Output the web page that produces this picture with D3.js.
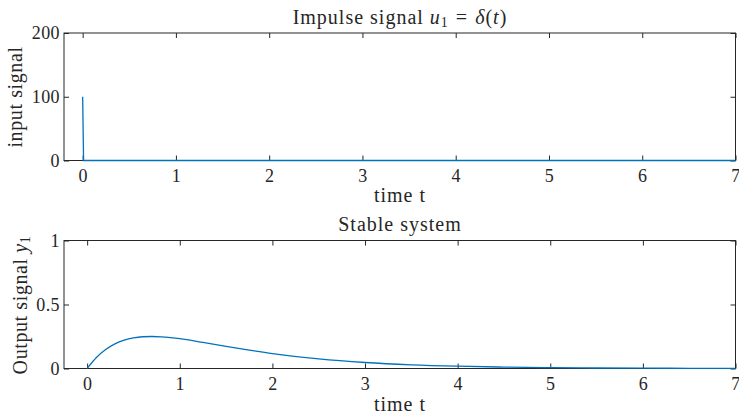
<!DOCTYPE html>
<html>
<head>
<meta charset="utf-8">
<script src="https://cdn.jsdelivr.net/npm/d3@7"></script>
<style>
  body { margin: 0; background: #fff; }
  text { font-family: 'Liberation Serif', 'DejaVu Serif', serif; fill: #262626; }
</style>
</head>
<body>
<div id="chart"></div>
<script>
// input signal: impulse at t = 0, zero afterwards
const inputT = [0, 0.01, 7]
const inputU = [100, 0, 0]

// output signal
const outputT = [0, 0.1, 0.2, 0.3, 0.4, 0.5, 0.6, 0.7, 0.8, 0.9, 1.0, 1.25, 1.5, 1.75, 2.0,
  2.5, 3.0, 3.5, 4.0, 4.5, 5.0, 5.5, 6.0, 6.5, 7.0]
const outputY = [0, 0.086, 0.148, 0.192, 0.221, 0.239, 0.248, 0.25, 0.247, 0.241, 0.233,
  0.204, 0.173, 0.144, 0.117, 0.075, 0.047, 0.029, 0.018, 0.011, 0.007, 0.004, 0.0025,
  0.0015, 0.0009]

const xTicks = [0, 1, 2, 3, 4, 5, 6, 7]
const topYTicks = [0, 100, 200]
const botYTicks = [0, 0.5, 1]

const W = 739, H = 414
const svg = d3.select('#chart').append('svg').attr('width', W).attr('height', H)

const axisColor = '#262626'
const lineColor = '#0072BD'

function panel(opts) {
  const { left, right, top, bottom, xDomain, yDomain, yTicks, yFormat } = opts
  const x = d3.scaleLinear().domain(xDomain).range([left, right])
  const y = d3.scaleLinear().domain(yDomain).range([bottom, top])
  const g = svg.append('g')

  // box
  g.append('rect')
    .attr('x', left).attr('y', top)
    .attr('width', right - left).attr('height', bottom - top)
    .attr('fill', 'none').attr('stroke', axisColor).attr('stroke-width', 1)

  const tl = 5
  // ticks point inward, on all four sides
  const xb = g.append('g').attr('transform', `translate(0,${bottom})`)
    .call(d3.axisBottom(x).tickValues(xTicks).tickSizeInner(-tl).tickSizeOuter(0).tickPadding(9))
  const xt = g.append('g').attr('transform', `translate(0,${top})`)
    .call(d3.axisTop(x).tickValues(xTicks).tickSizeInner(-tl).tickSizeOuter(0).tickFormat(''))
  const yl = g.append('g').attr('transform', `translate(${left},0)`)
    .call(d3.axisLeft(y).tickValues(yTicks).tickSizeInner(-tl).tickSizeOuter(0).tickPadding(4).tickFormat(yFormat))
  const yr = g.append('g').attr('transform', `translate(${right},0)`)
    .call(d3.axisRight(y).tickValues(yTicks).tickSizeInner(-tl).tickSizeOuter(0).tickFormat(''))
  ;[xb, xt, yl, yr].forEach((a) => {
    a.select('.domain').remove()
    a.selectAll('line').attr('stroke', axisColor)
    a.selectAll('text').attr('font-size', '18px').attr('fill', axisColor)
      .attr('letter-spacing', '0.4px')
      .style('font-family', "'Liberation Serif', serif")
  })

  // data line on top of the box
  g.append('path')
    .attr('d', opts.line(x, y))
    .attr('fill', 'none')
    .attr('stroke', lineColor)
    .attr('stroke-width', 1.3)
  return { x, y }
}

// top: impulse
panel({
  left: 64, right: 735.5, top: 33, bottom: 160.5,
  xDomain: [-0.2, 7], yDomain: [0, 200], yTicks: topYTicks, yFormat: d3.format('d'),
  line: (x, y) => d3.line().x((d, i) => x(inputT[i])).y((d) => y(d))(inputU),
})

// bottom: stable system
panel({
  left: 64, right: 735.5, top: 240.5, bottom: 368.5,
  xDomain: [-0.25, 7], yDomain: [0, 1], yTicks: botYTicks, yFormat: (d) => d,
  line: (x, y) => d3.line().curve(d3.curveMonotoneX).x((d, i) => x(outputT[i])).y((d) => y(d))(outputY),
})

// titles and labels
const fs = '20px'
const ls = '1px'
const title1 = svg.append('text').attr('x', 400).attr('y', 24).attr('text-anchor', 'middle')
  .attr('font-size', fs).attr('letter-spacing', ls)
title1.append('tspan').text('Impulse signal ')
title1.append('tspan').attr('font-style', 'italic').text('u')
title1.append('tspan').attr('font-size', '14px').attr('dy', 3).text('1')
title1.append('tspan').attr('dy', -3).attr('dx', 7).text('=')
title1.append('tspan').attr('dx', 7).attr('font-style', 'italic').text('δ')
title1.append('tspan').text('(')
title1.append('tspan').attr('font-style', 'italic').text('t')
title1.append('tspan').text(')')

svg.append('text').attr('x', 400).attr('y', 202).attr('text-anchor', 'middle')
  .attr('font-size', fs).attr('letter-spacing', ls).text('time t')
svg.append('text').attr('x', 400).attr('y', 231).attr('text-anchor', 'middle')
  .attr('font-size', fs).attr('letter-spacing', ls).text('Stable system')
svg.append('text').attr('x', 400).attr('y', 411).attr('text-anchor', 'middle')
  .attr('font-size', fs).attr('letter-spacing', ls).text('time t')

svg.append('text').attr('transform', 'translate(22,97) rotate(-90)').attr('text-anchor', 'middle')
  .attr('font-size', fs).attr('letter-spacing', '0.6px').text('input signal')

const yl2 = svg.append('text').attr('transform', 'translate(27,305) rotate(-90)').attr('text-anchor', 'middle')
  .attr('font-size', fs).attr('letter-spacing', '0.6px')
yl2.append('tspan').text('Output signal ')
yl2.append('tspan').attr('font-style', 'italic').text('y')
yl2.append('tspan').attr('font-size', '14px').attr('dy', 3).text('1')
</script>
</body>
</html>
